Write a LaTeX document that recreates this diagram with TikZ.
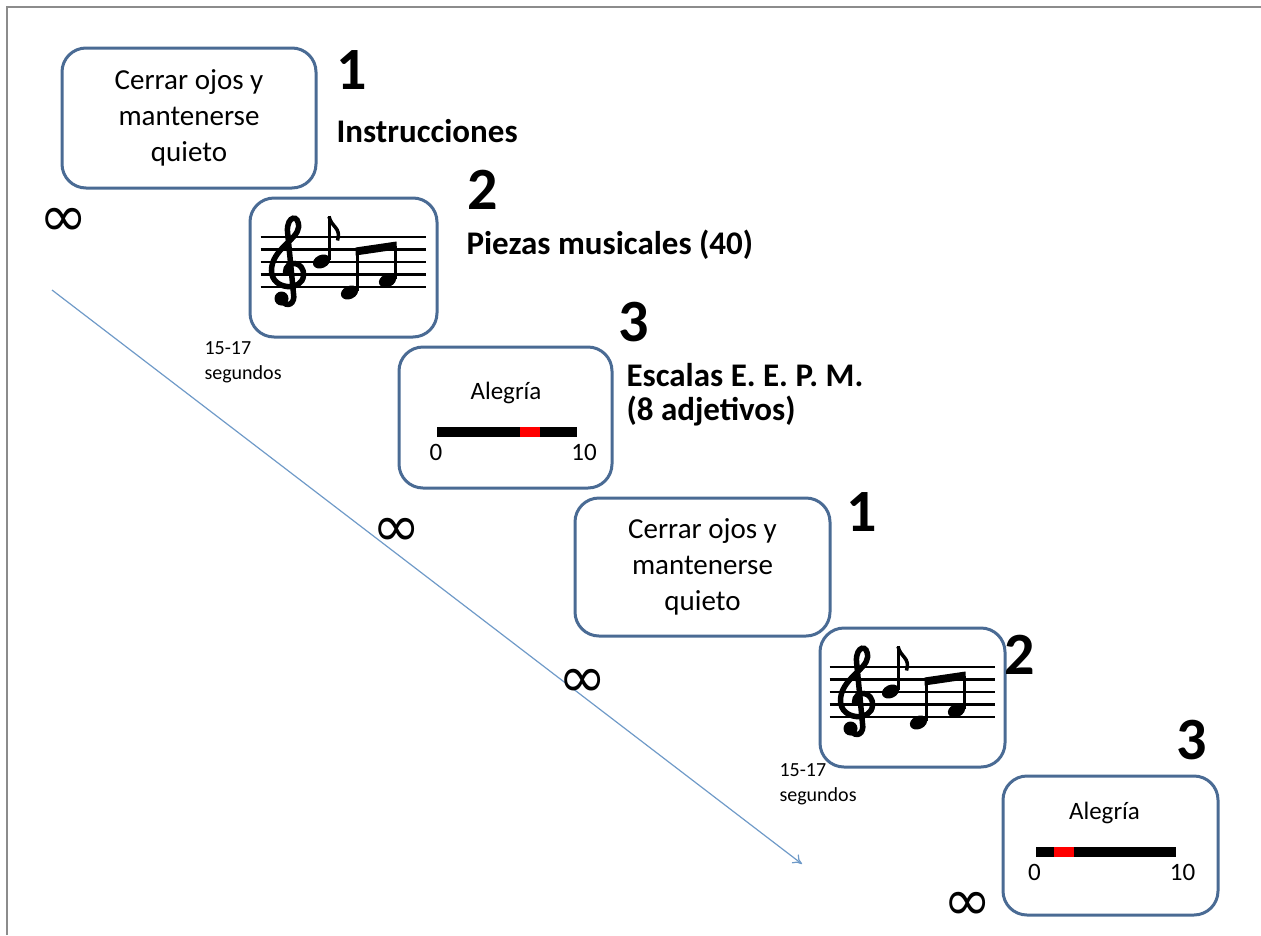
\documentclass[tikz,border=0pt]{standalone}
\usepackage{fontspec}
\setmainfont{Carlito}
\newfontfamily\symbolfont{DejaVu Sans}
\usetikzlibrary{positioning,arrows.meta}

\definecolor{boxblue}{HTML}{4A6B94}
\definecolor{arrowblue}{HTML}{6F9AC8}
\definecolor{framegray}{HTML}{8C8C8C}

\tikzset{
  screen/.style={draw=boxblue, line width=3pt, rounded corners=24pt, fill=white, align=center,
    font=\fontsize{29}{36}\selectfont},
  bignum/.style={font=\fontsize{60}{60}\selectfont\bfseries},
  stagetext/.style={anchor=west, align=left, font=\fontsize{33}{34}\selectfont\bfseries},
  secs/.style={anchor=west, align=left, font=\fontsize{20}{25}\selectfont},
  forever/.style={font=\fontsize{58}{58}\selectfont\symbolfont},
  scaletext/.style={font=\fontsize{25}{25}\selectfont},
}

% staff with clef and three notes, drawn round the origin of a scope
\newcommand{\staffpic}{
  \foreach \ly in {-30.5,-18,-5.5,7,19.5}
    \draw[line width=2.4pt] (-83,\ly) -- (82,\ly); % staff lines
  \draw[line width=5.5pt, line cap=round] (-62,33) .. controls (-56,41) and (-48,36) .. (-50,26)
    -- (-56,-36) .. controls (-57,-52) and (-44,-54) .. (-45,-40)
    .. controls (-46,-28) and (-72,-18) .. (-72,3)
    .. controls (-72,23) and (-41,24) .. (-40,8)
    .. controls (-39,-7) and (-58,-8) .. (-58,5); % clef
  \fill (-62,31) circle (7); % clef dot
  \fill[rotate around={25:(-22,-6)}] (-22,-6) ellipse (9 and 6.5); % first note
  \draw[line width=3pt] (-14.5,-8) -- (-14.5,-52); % its stem
  \draw[line width=3.5pt] (-14.5,-51) .. controls (-12,-40) and (-2,-40) .. (-6,-27); % its flag
  \fill[rotate around={25:(6,25)}] (6,25) ellipse (9 and 6.5); % low note
  \fill[rotate around={25:(44,13)}] (44,13) ellipse (9 and 6.5); % high note
  \draw[line width=3pt] (13.5,23) -- (13.5,-16); % stems
  \draw[line width=3pt] (51.5,11) -- (51.5,-22);
  \fill (12,-20) -- (53,-26) -- (53,-18) -- (12,-12) -- cycle; % beam
}

% rating scale round the top middle of its bar, #1 = name prefix, #2 = left end of the red mark
\newcommand{\ratingbar}[2]{
  \node[scaletext] (#1word) at (-1,-34) {Alegría};
  \fill (-70,0) rectangle (70,9.5); % bar
  \fill[red] (#2,0) rectangle ++(19.5,9.5); % mark
  \node[scaletext] (#1low) at (-71,25) {0};
  \node[scaletext] (#1high) at (77,25) {10};
}

\begin{document}
\begin{tikzpicture}[x=1pt, y=-1pt]
  \useasboundingbox (0,0) rectangle (1261,935);
  \draw[framegray, line width=2pt] (7,935) -- (7,7) -- (1261,7); % frame

  % time arrow
  \coordinate (tstart) at (52,290);
  \coordinate (tend) at (802,864);
  \draw[arrowblue, line width=1.2pt, -{To[length=9pt, width=11pt]}] (tstart) -- (tend);

  % first round
  \node[screen, minimum width=254pt, minimum height=140pt] (ojos) at (189,118) {Cerrar ojos y\\mantenerse\\quieto};
  \node[bignum] (uno) at (352,70) {1};
  \node[stagetext] (instr) at (333,131) {Instrucciones};
  \node[forever] (inf1) at (64,222) {∞};

  \node[screen, minimum width=187pt, minimum height=139pt] (pieza) at (343.5,267.5) {};
  \begin{scope}[shift={(pieza.center)}] \staffpic \end{scope}
  \node[bignum] (dos) at (483,190) {2};
  \node[stagetext] (piezas) at (463,245) {Piezas musicales (40)};
  \node[secs] (secs1) at (201,362) {15-17\\segundos};

  \node[screen, minimum width=213pt, minimum height=141pt] (escala) at (505.5,417.5) {};
  \begin{scope}[shift={(escala.center)}, shift={(1.5,9.5)}] \ratingbar{a}{13} \end{scope}
  \node[bignum] (tres) at (634,322) {3};
  \node[stagetext] (escalas) at (623,395) {Escalas E. E. P. M.\\(8 adjetivos)};
  \node[forever] (inf2) at (397,532) {∞};

  % second round
  \node[screen, minimum width=255pt, minimum height=138pt] (ojosb) at (702.5,567) {Cerrar ojos y\\mantenerse\\quieto};
  \node[bignum] (unob) at (862,512) {1};
  \node[forever] (inf3) at (583,683) {∞};

  \node[screen, minimum width=185pt, minimum height=139pt] (piezab) at (912.5,697.5) {};
  \begin{scope}[shift={(piezab.center)}] \staffpic \end{scope}
  \node[bignum] (dosb) at (1020,655) {2};
  \node[secs] (secs2) at (776,784) {15-17\\segundos};

  \node[screen, minimum width=215pt, minimum height=139pt] (escalab) at (1110.5,845.5) {};
  \begin{scope}[shift={(escalab.center)}, shift={(-5,1.5)}] \ratingbar{b}{-51.5} \end{scope}
  \node[bignum] (tresb) at (1192,740) {3};
  \node[forever] (inf4) at (968,906) {∞};
\end{tikzpicture}
\end{document}
